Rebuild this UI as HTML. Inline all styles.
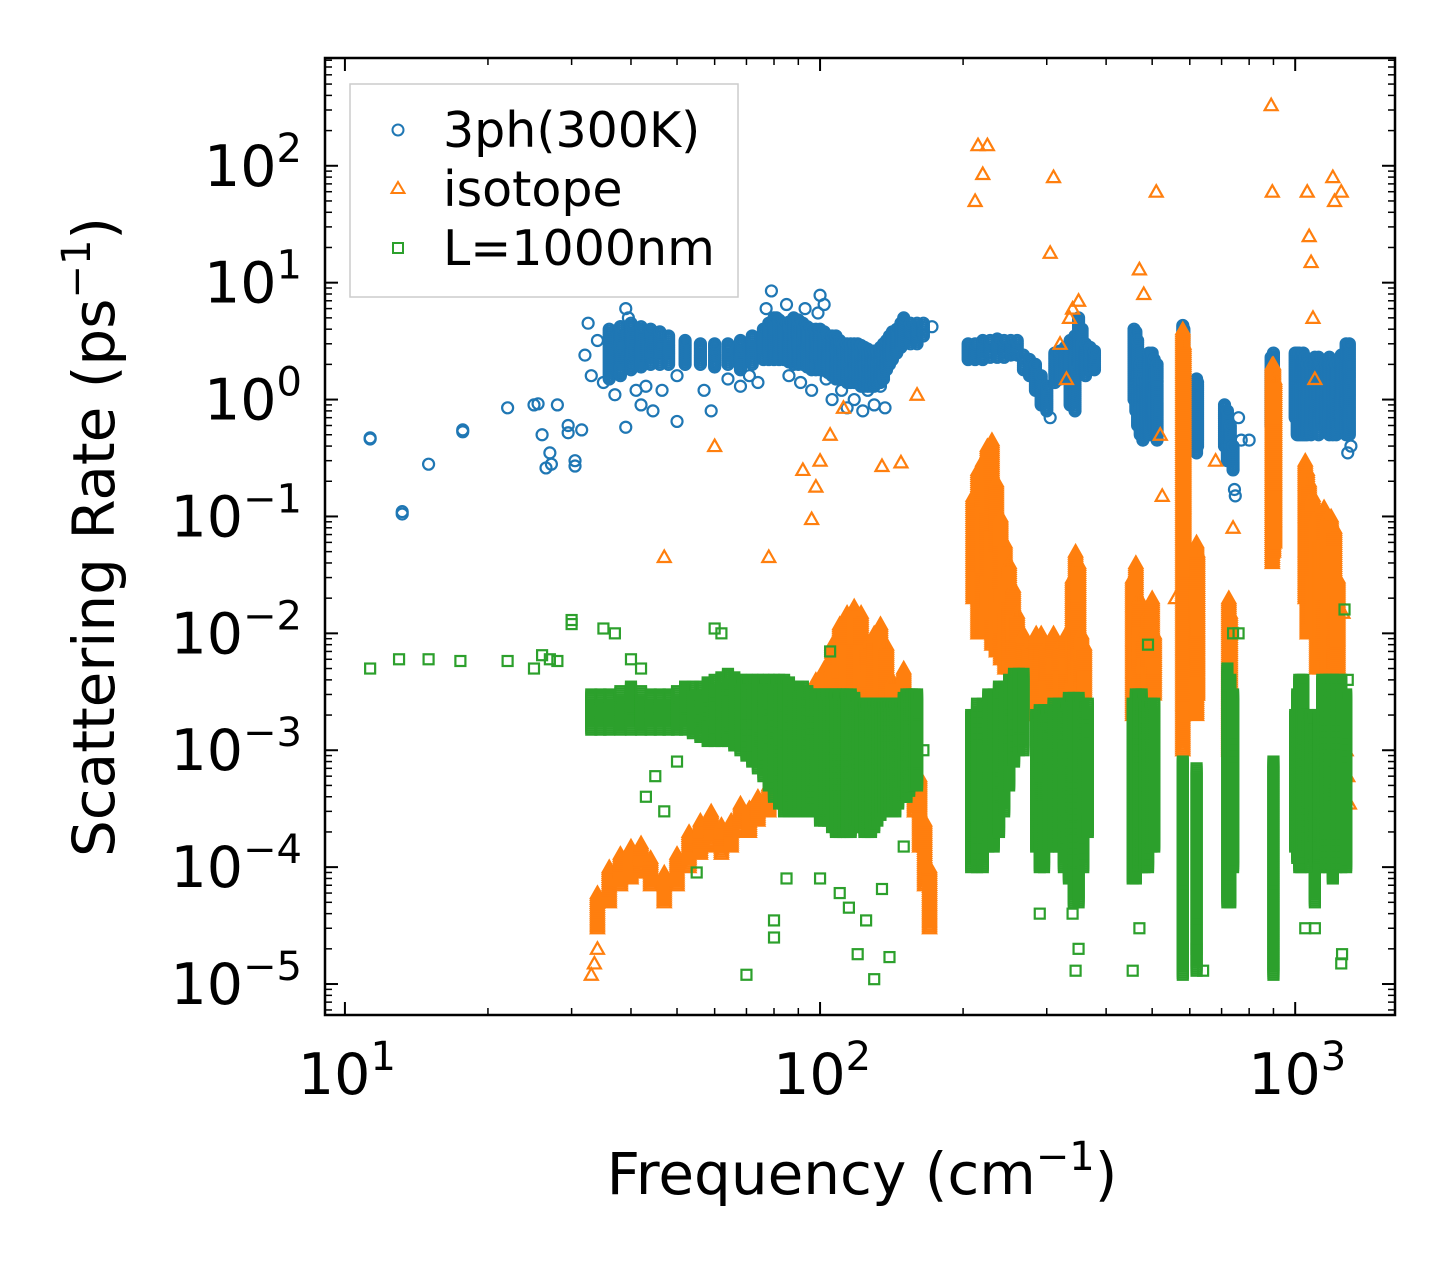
<!DOCTYPE html>
<html><head><meta charset="utf-8"><style>
body{margin:0;background:#fff}
svg{display:block;font-family:"DejaVu Sans","Liberation Sans",sans-serif}
</style></head><body>
<svg id="chart" width="1455" height="1265" viewBox="0 0 1455 1265" xmlns="http://www.w3.org/2000/svg">
<defs><clipPath id="pc"><rect x="325" y="58" width="1070" height="957"/></clipPath></defs>
<rect x="0" y="0" width="1455" height="1265" fill="#fff"/>
<g id="marks" clip-path="url(#pc)"></g>
<rect x="325" y="58" width="1070" height="957" fill="none" stroke="#000" stroke-width="2.5"/>
<g id="ticks"></g>
<text x="862" y="1194" font-size="58" text-anchor="middle">Frequency (cm<tspan dy="-24" font-size="40">−1</tspan><tspan dy="24">)</tspan></text>
<text transform="translate(114,537) rotate(-90)" font-size="58" text-anchor="middle">Scattering Rate (ps<tspan dy="-24" font-size="40">−1</tspan><tspan dy="24">)</tspan></text>
<g>
<rect x="350" y="84" width="388" height="213" fill="#fff" fill-opacity="0.8" stroke="#ccc" stroke-width="1.5"/>
<circle cx="398" cy="130" r="5.5" fill="none" stroke="#1f77b4" stroke-width="2"/>
<text x="443" y="147" font-size="49">3ph(300K)</text>
<polygon points="398,182 404.5,193 391.5,193" fill="none" stroke="#ff7f0e" stroke-width="2"/>
<text x="443" y="206" font-size="49">isotope</text>
<rect x="393" y="243" width="10" height="10" fill="none" stroke="#2ca02c" stroke-width="2"/>
<text x="443" y="265" font-size="49">L=1000nm</text>
</g>
</svg>
<script>
const xTickExps = [1, 2, 3];
const yTickExps = [2, 1, 0, -1, -2, -3, -4, -5];
const xDomain = [Math.log10(9.08), Math.log10(1622)];
const yDomain = [-5.265, 2.922];
const bluePoints = [[11.3,.46],[11.3,.47],[13.2,.11],[13.2,.105],[15,.28],[17.7,.55],[17.7,.53],[22,.85],[25,.9],[25.5,.92],[26,.5],[26.5,.26],[27,.35],[27.2,.28],[28,.9],[29.5,.6],[29.5,.52],[30.5,.3],[30.5,.27],[31.5,.55],[32,2.4],[32.5,4.5],[33,1.6],[34,3.2],[35,1.4],[37,1.1],[38,4.2],[39,6],[39,.58],[39.5,5],[41,1.2],[42,.9],[43,1.3],[44.5,.8],[46.5,1.2],[50,.65],[50,1.6],[57,1.2],[59,.8],[64,1.5],[68,1.3],[71,1.6],[74,1.4],[77,6],[79,8.5],[81,5],[85,6.5],[86,1.6],[91,1.4],[93,6],[96,1.2],[99,5.5],[100,7.8],[102,6.5],[103,1.5],[106,1],[111,1.2],[114,.85],[118,1],[123,.8],[126,1.2],[130,.9],[134,1.3],[137,.85],[172,4.2],[305,.7],[745,.17],[748,.15],[760,.7],[770,.45],[800,.45],[1310,.4],[1290,.35]];
const blueColumns = [[36,1.5,4],[38,1.6,4.2],[40,1.8,4.5],[42,1.9,4.2],[44,2,4],[46,2,3.8],[48,2,3.5],[52,2,3.2],[56,2,3],[60,1.9,3],[64,2,3],[68,1.8,3.2],[72,2,3.5],[76,2.2,4],[78,2.2,4.5],[80,2.2,5],[82,2.2,4.8],[84,2.2,4.5],[86,2.1,4.6],[88,2,5],[90,2,4.8],[92,2,4.5],[94,1.9,4.2],[96,1.8,4],[98,1.8,4],[100,1.8,4],[102,1.8,3.8],[104,1.7,3.5],[106,1.6,3.5],[108,1.5,3.5],[110,1.5,3.2],[112,1.5,3],[114,1.4,3],[116,1.4,3],[118,1.4,3],[120,1.4,3],[122,1.3,2.9],[124,1.3,2.8],[126,1.3,2.7],[128,1.3,2.6],[130,1.3,2.6],[132,1.4,2.6],[134,1.4,2.8],[136,1.5,3],[138,1.8,3.2],[140,2,3.5],[142,2.2,3.8],[145,2.5,4],[148,2.8,4.5],[150,3,5],[155,3,4.5],[160,3,4.5],[165,3.5,4.5],[205,2.2,3],[212,2.2,3],[220,2.2,3.2],[228,2.3,3.2],[236,2.3,3.3],[244,2.3,3.2],[252,2.4,3.2],[260,2.4,3.2],[268,1.8,2.4],[276,1.6,2.2],[284,1.2,2],[292,.9,1.6],[300,.8,1.3],[312,1.4,2.5],[320,1.5,2.6],[328,1.6,2.8],[336,.9,3.2],[344,.8,3.5],[350,2,5],[356,1.8,4],[362,1.6,3],[370,1.8,2.8],[378,1.8,2.6],[458,1,4],[462,.8,3.8],[466,.6,3.2],[472,.5,2],[478,.45,1.5],[485,.5,1.5],[492,.5,2.5],[500,.6,2.5],[505,.55,2.2],[512,.45,2],[580,.9,4.3],[583,1.2,4],[620,.35,1.5],[623,.4,1.4],[710,.4,.9],[720,.3,.8],[730,.3,.6],[740,.25,.4],[890,.6,2.3],[900,.6,2.5],[1000,.7,2.5],[1010,.5,2.5],[1020,.5,2.5],[1030,.5,2.3],[1040,.5,2.5],[1050,.5,2.3],[1060,.5,2],[1080,.5,2],[1100,.6,2.3],[1120,.5,2.3],[1140,.6,1.8],[1160,.6,2],[1180,.5,2.3],[1200,.5,2],[1220,.5,2],[1250,.6,2.4],[1280,.5,3],[1300,.5,3]];
const orangePoints = [[33,1.2e-5],[33.5,1.5e-5],[34,2e-5],[47,.045],[60,.4],[78,.045],[92,.25],[96,.095],[98,.18],[100,.3],[105,.5],[112,.85],[135,.27],[148,.29],[160,1.1],[212,50],[215,150],[225,150],[220,85],[310,80],[305,18],[320,3],[335,5],[340,6],[350,7],[330,1.5],[470,13],[480,8],[510,60],[520,.5],[525,.15],[560,.02],[680,.3],[740,.08],[890,330],[895,60],[1060,60],[1070,25],[1080,15],[1090,5],[1100,1.5],[1200,80],[1210,50],[1250,60],[1280,1e-3],[1300,3.5e-4],[1290,6e-4],[1260,.015]];
const orangeColumns = [[34,3e-5,6e-5],[36,5e-5,1e-4],[38,7e-5,1.3e-4],[40,8e-5,1.5e-4],[42,9e-5,1.6e-4],[44,7e-5,1.2e-4],[47,5e-5,9e-5],[50,7e-5,1.3e-4],[53,1e-4,2e-4],[56,1.3e-4,2.5e-4],[59,1.5e-4,3e-4],[62,1.3e-4,2.3e-4],[65,1.5e-4,2.5e-4],[68,2e-4,3.5e-4],[71,2e-4,3.2e-4],[74,2.5e-4,4e-4],[78,3e-4,5e-4],[82,3.5e-4,7e-4],[86,4e-4,1e-3],[90,5e-4,2e-3],[94,6e-4,3e-3],[98,8e-4,4e-3],[102,1e-3,5e-3],[106,1.5e-3,8e-3],[110,2e-3,1.2e-2],[114,2e-3,1.5e-2],[118,2e-3,1.7e-2],[122,2e-3,1.5e-2],[126,1.5e-3,8e-3],[130,2e-3,1e-2],[134,1.5e-3,1.2e-2],[138,1.2e-3,8e-3],[142,1e-3,4e-3],[146,7e-4,3e-3],[150,6e-4,5e-3],[154,4e-4,3e-3],[158,3e-4,1.2e-3],[162,1.5e-4,6e-4],[166,7e-5,2.5e-4],[170,3e-5,1e-4],[210,.02,.15],[215,.01,.25],[220,.01,.3],[225,.01,.4],[230,.008,.45],[235,.007,.2],[240,.006,.1],[245,.005,.06],[250,.005,.04],[255,.004,.025],[260,.003,.015],[268,.002,.01],[275,.002,.008],[285,.002,.01],[292,.002,.01],[300,.002,.008],[310,.003,.01],[320,.003,.008],[330,.003,.01],[340,.003,.03],[345,.004,.05],[350,.005,.04],[355,.004,.01],[360,.003,.008],[455,.002,.03],[462,.002,.04],[470,.002,.02],[480,.003,.01],[490,.003,.015],[500,.005,.02],[505,.003,.01],[580,.001,4],[583,.002,3],[620,.002,.06],[623,.003,.05],[725,.001,.02],[730,.0015,.015],[895,.04,2],[900,.05,2],[905,.06,1.5],[1050,.02,.3],[1060,.01,.25],[1070,.01,.2],[1090,.01,.15],[1110,.005,.1],[1130,.005,.1],[1150,.005,.12],[1170,.005,.1],[1190,.003,.1],[1210,.003,.08],[1230,.002,.03]];
const greenPoints = [[11.3,5e-3],[13,6e-3],[15,6e-3],[17.5,5.8e-3],[22,5.8e-3],[25,5e-3],[26,6.5e-3],[27,6e-3],[28,5.8e-3],[30,1.2e-2],[30,1.3e-2],[35,1.1e-2],[37,1e-2],[40,6e-3],[42,5e-3],[43,4e-4],[45,6e-4],[47,3e-4],[50,8e-4],[55,9e-5],[60,1.1e-2],[62,1e-2],[70,1.2e-5],[80,2.5e-5],[80,3.5e-5],[85,8e-5],[100,8e-5],[105,7e-3],[110,6e-5],[115,4.5e-5],[120,1.8e-5],[125,3.5e-5],[130,1.1e-5],[135,6.5e-5],[140,1.7e-5],[150,1.5e-4],[165,1e-3],[290,4e-5],[345,1.3e-5],[350,2e-5],[340,4e-5],[455,1.3e-5],[470,3e-5],[490,8e-3],[620,2e-5],[640,1.3e-5],[740,1e-2],[760,1e-2],[1050,3e-5],[1100,3e-5],[1250,1.5e-5],[1255,1.8e-5],[1270,1.6e-2],[1290,4e-3]];
const greenColumns = [[33,1.5e-3,3e-3],[34.5,1.5e-3,3e-3],[36,1.5e-3,3e-3],[38,1.5e-3,3.2e-3],[40,1.5e-3,3.5e-3],[42,1.5e-3,3.2e-3],[44,1.5e-3,3e-3],[46,1.5e-3,3e-3],[48,1.5e-3,3e-3],[50,1.5e-3,3.2e-3],[52,1.5e-3,3.5e-3],[54,1.4e-3,3.5e-3],[56,1.3e-3,3.5e-3],[58,1.2e-3,3.8e-3],[60,1.2e-3,4e-3],[62,1.2e-3,4.2e-3],[64,1.2e-3,4.5e-3],[66,1.1e-3,4.2e-3],[68,1e-3,4e-3],[70,9e-4,4e-3],[72,8e-4,4e-3],[74,7e-4,4e-3],[76,6e-4,4e-3],[78,5e-4,4e-3],[80,4e-4,4e-3],[82,3.5e-4,4e-3],[84,3e-4,4e-3],[86,3e-4,3.8e-3],[88,3e-4,3.5e-3],[90,3e-4,3.5e-3],[92,3e-4,3.5e-3],[94,3e-4,3.2e-3],[96,3e-4,3e-3],[98,3e-4,3e-3],[100,2.5e-4,3e-3],[102,2.5e-4,3e-3],[104,2.5e-4,3e-3],[106,2.2e-4,3e-3],[108,2e-4,3e-3],[110,2e-4,3e-3],[112,2e-4,3e-3],[114,2e-4,3e-3],[116,2e-4,3e-3],[118,2.2e-4,2.8e-3],[120,2.5e-4,2.5e-3],[122,2.2e-4,2.5e-3],[124,2e-4,2.5e-3],[126,2e-4,2.5e-3],[128,2e-4,2.5e-3],[130,2.2e-4,2.5e-3],[132,2.5e-4,2.5e-3],[134,2.8e-4,2.5e-3],[136,3e-4,2.5e-3],[138,3e-4,2.5e-3],[140,3e-4,2.5e-3],[142,3e-4,2.5e-3],[144,3e-4,2.5e-3],[146,3.5e-4,2.5e-3],[148,4e-4,2.5e-3],[150,4e-4,2.8e-3],[152,4e-4,3e-3],[154,4.5e-4,3e-3],[156,5e-4,3e-3],[158,5e-4,3e-3],[160,5e-4,3e-3],[208,1e-4,2e-3],[214,1e-4,2.5e-3],[220,1e-4,2.5e-3],[226,1.5e-4,3e-3],[232,1.5e-4,3e-3],[238,2e-4,3.5e-3],[244,3e-4,3.5e-3],[250,5e-4,4e-3],[256,8e-4,4.5e-3],[262,1e-3,4.5e-3],[268,1e-3,4.5e-3],[285,1.5e-4,2e-3],[290,1e-4,2.2e-3],[296,1e-4,2.2e-3],[302,1.5e-4,2.2e-3],[310,1.5e-4,2.5e-3],[318,1.5e-4,2.5e-3],[326,1e-4,2.5e-3],[334,8e-5,2.8e-3],[342,5e-5,2.8e-3],[350,5e-5,2.8e-3],[358,1e-4,2.5e-3],[366,2e-4,2.5e-3],[455,8e-5,2.5e-3],[462,8e-5,3e-3],[468,1e-4,3e-3],[475,1e-4,3e-3],[482,1e-4,2.5e-3],[490,1e-4,2.5e-3],[498,1.5e-4,2.5e-3],[505,1.5e-4,2.5e-3],[580,1.2e-5,8e-4],[620,1.3e-5,7e-4],[720,5e-5,5e-3],[730,5e-5,4e-3],[740,1e-4,3e-3],[900,1.2e-5,8e-4],[1000,1.5e-4,2e-3],[1010,1.2e-4,3e-3],[1020,1e-4,4e-3],[1030,1e-4,4e-3],[1040,1.5e-4,4e-3],[1060,1.5e-4,2e-3],[1080,1e-4,2e-3],[1100,5e-5,1.5e-3],[1120,1e-4,2e-3],[1140,1.5e-4,4e-3],[1160,1e-4,4e-3],[1180,1e-4,4e-3],[1200,8e-5,4e-3],[1220,1e-4,4e-3],[1250,1e-4,4e-3],[1280,1e-4,3e-3]];

const NS = 'http://www.w3.org/2000/svg';
const X0 = 325, X1 = 1395, Y0 = 58, Y1 = 1015;
function xScale(f){ return X0 + (Math.log10(f) - xDomain[0]) / (xDomain[1] - xDomain[0]) * (X1 - X0); }
function yScale(v){ return Y1 - (Math.log10(v) - yDomain[0]) / (yDomain[1] - yDomain[0]) * (Y1 - Y0); }
const marks = document.getElementById('marks');
const ticks = document.getElementById('ticks');

function marker(kind, f, v, name){
  const x = xScale(f), y = yScale(v);
  let el;
  if (kind === 'circle'){
    el = document.createElementNS(NS, 'circle');
    el.setAttribute('cx', x); el.setAttribute('cy', y); el.setAttribute('r', 5.5);
    el.setAttribute('stroke', '#1f77b4');
  } else if (kind === 'tri'){
    el = document.createElementNS(NS, 'polygon');
    el.setAttribute('points', `${x},${y-6.5} ${x+6.5},${y+5} ${x-6.5},${y+5}`);
    el.setAttribute('stroke', '#ff7f0e');
  } else {
    el = document.createElementNS(NS, 'rect');
    el.setAttribute('x', x-5); el.setAttribute('y', y-5); el.setAttribute('width', 10); el.setAttribute('height', 10);
    el.setAttribute('stroke', '#2ca02c');
  }
  el.setAttribute('fill', 'none');
  el.setAttribute('stroke-width', 2.2);
  
  
  marks.appendChild(el);
}
function drawSeries(kind, points, columns, name){
  points.forEach(p => marker(kind, p[0], p[1], name));
  columns.forEach(c => {
    const yLo = yScale(c[1]), yHi = yScale(c[2]);
    const n = Math.max(1, Math.round((yLo - yHi) / 2));
    for (let i = 0; i <= n; i++){
      const v = Math.pow(10, Math.log10(c[1]) + (Math.log10(c[2]) - Math.log10(c[1])) * i / n);
      marker(kind, c[0], v, name);
    }
  });
}
drawSeries('circle', bluePoints, blueColumns, 'point-3ph');
drawSeries('tri', orangePoints, orangeColumns, 'point-isotope');
drawSeries('sq', greenPoints, greenColumns, 'point-boundary');

function line(x1,y1,x2,y2,w){
  const l = document.createElementNS(NS,'line');
  l.setAttribute('x1',x1);l.setAttribute('y1',y1);l.setAttribute('x2',x2);l.setAttribute('y2',y2);
  l.setAttribute('stroke','#000');l.setAttribute('stroke-width',w);
  
  
  ticks.appendChild(l);
}
function label(x,y,exp,anchor,name){
  const t = document.createElementNS(NS,'text');
  t.setAttribute('x',x);t.setAttribute('y',y);t.setAttribute('font-size','57');t.setAttribute('text-anchor',anchor);
  t.innerHTML = `10<tspan dy="-24" font-size="40">${exp<0?'−'+(-exp):exp}</tspan>`;
  
  
  ticks.appendChild(t);
}
for (let d = 0; d <= 3; d++){
  for (let m = 1; m <= 9; m++){
    const x = xScale(m * Math.pow(10, d));
    if (x < X0 || x > X1) continue;
    const L = m === 1 ? 13 : 7, w = m === 1 ? 2 : 1.5;
    line(x, Y1, x, Y1 - L, w); line(x, Y0, x, Y0 + L, w);
  }
}
xTickExps.forEach(e => label(xScale(Math.pow(10,e)) + 2, 1094, e, 'middle', 'x-tick-label'));
for (let d = -6; d <= 2; d++){
  for (let m = 1; m <= 9; m++){
    const y = yScale(m * Math.pow(10, d));
    if (y < Y0 || y > Y1) continue;
    const L = m === 1 ? 13 : 7, w = m === 1 ? 2 : 1.5;
    line(X0, y, X0 + L, y, w); line(X1, y, X1 - L, y, w);
  }
}
yTickExps.forEach(e => label(302, yScale(Math.pow(10,e)) + 20, e, 'end', 'y-tick-label'));
</script>
</body></html>
